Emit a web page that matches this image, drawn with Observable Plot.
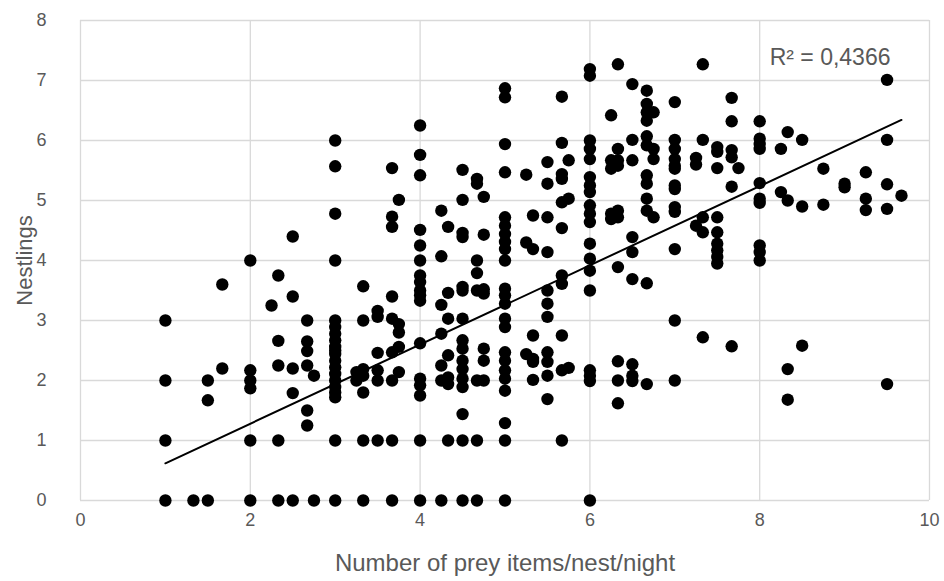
<!DOCTYPE html>
<html>
<head>
<meta charset="utf-8">
<script src="https://cdn.jsdelivr.net/npm/d3@7"></script>
<script src="https://cdn.jsdelivr.net/npm/@observablehq/plot@0.6"></script>
<style>
  html, body { margin: 0; padding: 0; background: #ffffff; }
  #chart { width: 944px; height: 581px; }
</style>
</head>
<body>
<div id="chart"></div>
<script>
// Prey items per nest per night (x positions of the stacked columns)
const preyItems = [1, 1.33, 1.5, 1.67, 2, 2.25, 2.33, 2.5, 2.67, 2.75, 3, 3.25, 3.33, 3.5, 3.67, 3.75, 4, 4.25, 4.33, 4.5, 4.67, 4.75, 5, 5.25, 5.33, 5.5, 5.67, 5.75, 6, 6.25, 6.33, 6.5, 6.67, 6.75, 7, 7.25, 7.33, 7.5, 7.67, 7.75, 8, 8.25, 8.33, 8.5, 8.75, 9, 9.25, 9.5, 9.67];

// Nestlings observed at each prey-item value (same order as preyItems)
const nestlings = [
  [0, 1, 2, 3],
  [0],
  [0, 1.67, 2],
  [2.2, 3.6],
  [0, 1, 1.87, 2, 2.17, 4],
  [3.25],
  [0, 1, 2.25, 2.66, 3.75],
  [0, 1.79, 2.2, 3.4, 4.4],
  [1.25, 1.5, 2.25, 2.49, 2.65, 3],
  [0, 2.08],
  [0, 1, 1.72, 1.8, 1.89, 2, 2.11, 2.22, 2.33, 2.44, 2.5, 2.56, 2.67, 2.78, 2.89, 3, 4, 4.78, 5.57, 6],
  [2, 2.14],
  [0, 1, 1.8, 2.08, 2.19, 3, 3.57],
  [1, 2, 2.17, 2.46, 3.06, 3.16],
  [0, 1, 2, 2.47, 3.03, 3.4, 4.56, 4.73, 5.54],
  [2.14, 2.56, 2.8, 2.94, 5.01],
  [0, 1, 1.75, 1.92, 2.03, 2.62, 3.33, 3.42, 3.5, 3.64, 3.75, 4, 4.25, 4.51, 5.42, 5.76, 6.25],
  [0, 2, 2.25, 2.78, 3.26, 4.07, 4.83],
  [1, 1.94, 2.05, 2.42, 3.03, 3.46, 4.56],
  [0, 1, 1.44, 1.89, 2.03, 2.19, 2.33, 2.53, 2.67, 3.03, 3.5, 3.56, 4.39, 4.46, 5.01, 5.51],
  [0, 1, 2, 3.5, 3.79, 4, 5.28, 5.36],
  [2, 2.33, 2.53, 3.45, 3.52, 4.43, 5.06],
  [0, 1, 1.29, 1.83, 2.03, 2.17, 2.33, 2.47, 2.89, 3.03, 3.28, 3.42, 3.53, 4, 4.19, 4.31, 4.44, 4.58, 4.72, 5.47, 5.94, 6.72, 6.87],
  [2.44, 4.3, 5.43],
  [2.01, 2.31, 2.36, 2.75, 4.19, 4.75],
  [1.69, 2.08, 2.31, 2.47, 3.06, 3.28, 3.5, 4.14, 4.72, 5.28, 5.64],
  [1, 2.17, 2.75, 3.61, 3.75, 4.54, 4.97, 5.36, 5.44, 5.96, 6.73],
  [2.21, 5.03, 5.67],
  [0, 1.99, 2.08, 2.17, 3.5, 3.83, 4.03, 4.28, 4.64, 4.78, 4.92, 5.14, 5.25, 5.39, 5.69, 5.86, 6, 7.08, 7.19],
  [4.69, 4.78, 5.53, 5.67, 6.42],
  [1.62, 2, 2.32, 3.89, 4.72, 4.83, 5.58, 5.67, 5.86, 7.27],
  [1.99, 2.08, 2.27, 3.69, 4.14, 4.39, 5.67, 6.01, 6.94],
  [1.94, 3.62, 4.83, 5.03, 5.28, 5.42, 5.92, 6.07, 6.33, 6.47, 6.61, 6.83],
  [4.72, 5.69, 5.86, 6.47],
  [2, 3, 4.19, 4.81, 4.89, 5.19, 5.25, 5.53, 5.58, 5.69, 5.86, 6.01, 6.64],
  [4.58, 5.6, 5.71],
  [2.72, 4.47, 4.72, 6.01, 7.27],
  [3.95, 4.06, 4.17, 4.28, 4.47, 4.72, 5.54, 5.81, 5.89],
  [2.57, 5.23, 5.72, 5.84, 6.32, 6.71],
  [5.54],
  [4, 4.14, 4.25, 4.96, 5.03, 5.29, 5.86, 5.94, 6.03, 6.32],
  [5.14, 5.86],
  [1.68, 2.19, 5, 6.14],
  [2.58, 4.9, 6.01],
  [4.93, 5.53],
  [5.22, 5.28],
  [4.84, 5.03, 5.47],
  [1.94, 4.86, 5.27, 6.01, 7.01],
  [5.08]
];

// Linear trendline as printed on the original chart
const trendSlope = 0.66;
const trendIntercept = -0.04;

const xTicks = [0, 2, 4, 6, 8, 10];
const yTicks = [0, 1, 2, 3, 4, 5, 6, 7, 8];
const xTitle = "Number of prey items/nest/night";
const yTitle = "Nestlings";
const r2Label = "R² = 0,4366";

const points = preyItems.flatMap((x, i) => nestlings[i].map(y => ({x, y})));
const trend = d3.extent(preyItems).map(x => ({x, y: trendIntercept + trendSlope * x}));

const grey = "#595959";
const font = "'Liberation Sans', Arial, sans-serif";

const chart = Plot.plot({
  width: 944,
  height: 581,
  marginLeft: 80,
  marginRight: 15,
  marginTop: 20,
  marginBottom: 81,
  style: { fontFamily: font, background: "#ffffff", overflow: "visible" },
  x: { domain: [0, 10], ticks: xTicks },
  y: { domain: [0, 8], ticks: yTicks },
  marks: [
    Plot.gridX(xTicks, { stroke: "#d9d9d9", strokeOpacity: 1, strokeWidth: 1.3 }),
    Plot.gridY(yTicks, { stroke: "#d9d9d9", strokeOpacity: 1, strokeWidth: 1.3 }),
    Plot.axisX(xTicks, { tickSize: 0, tickPadding: 13, fontSize: 18, fill: grey, label: null, tickFormat: d => String(d) }),
    Plot.axisY(yTicks, { tickSize: 0, tickPadding: 34, fontSize: 18, fill: grey, label: null, tickFormat: d => String(d) }),
    Plot.dot(points, { x: "x", y: "y", r: 6.2, fill: "black", stroke: "none" }),
    Plot.line(trend, { x: "x", y: "y", stroke: "black", strokeWidth: 2 }),
    Plot.text([r2Label], { frameAnchor: "top-right", dx: -39, dy: 37, textAnchor: "end", lineAnchor: "middle", fontSize: 23, fill: grey }),
    Plot.text([xTitle], { frameAnchor: "bottom", dy: 63, lineAnchor: "middle", fontSize: 24, fill: grey }),
    Plot.text([yTitle], { frameAnchor: "left", dx: -56, rotate: -90, textAnchor: "middle", lineAnchor: "middle", fontSize: 22, fill: grey })
  ]
});

document.getElementById("chart").appendChild(chart);
</script>
</body>
</html>
